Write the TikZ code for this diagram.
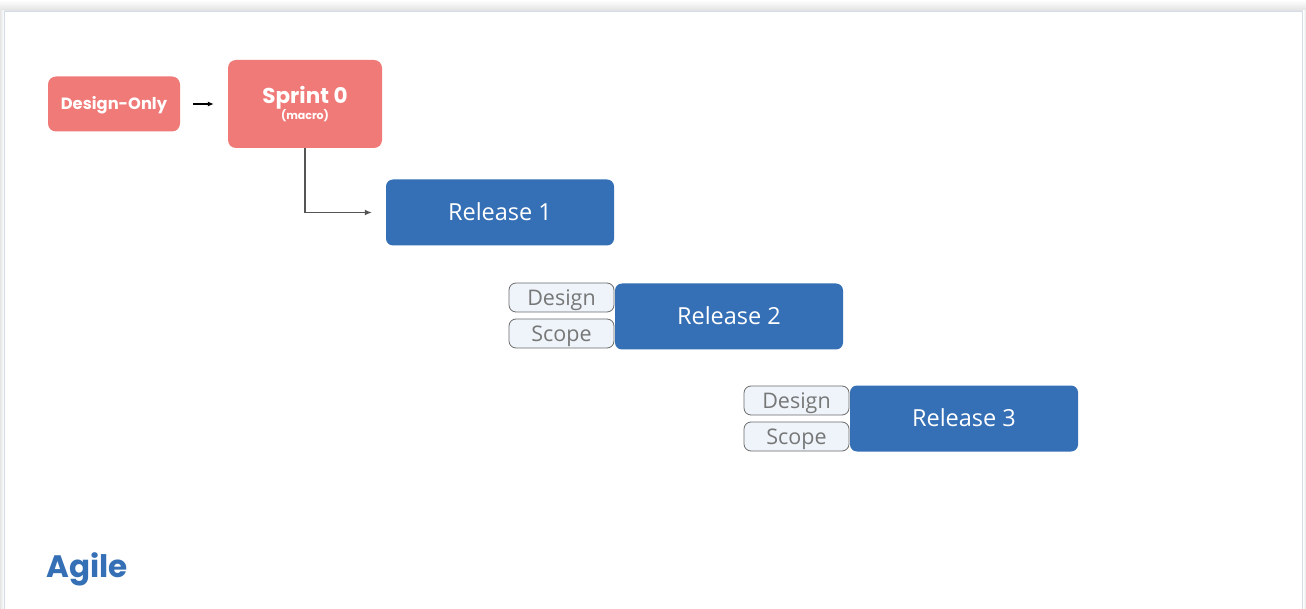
\documentclass[tikz,border=0pt]{standalone}
\usepackage{fontspec}
\setmainfont{Open Sans}
\newfontfamily\pop{Poppins}
\usetikzlibrary{arrows.meta}
\definecolor{salmon}{HTML}{F07A78}
\definecolor{relblue}{HTML}{356FB5}
\definecolor{pillfill}{HTML}{EEF4FA}
\definecolor{pillline}{HTML}{6B6B6B}
\definecolor{pilltext}{HTML}{777777}
\definecolor{framec}{HTML}{D3DDE9}
\definecolor{conn}{HTML}{555555}
\tikzset{
  redbox/.style={fill=salmon, rounded corners=8pt, text=white, align=center, inner sep=0pt},
  relbox/.style={fill=relblue, rounded corners=7pt, text=white, minimum width=228pt, minimum height=66pt, inner sep=0pt, text height=16.8pt, text depth=0pt, font=\fontsize{23.5}{26}\selectfont},
  pill/.style={fill=pillfill, draw=pillline, line width=0.8pt, rounded corners=7pt, text=pilltext, minimum width=105pt, minimum height=29pt, inner sep=0pt, text height=15.35pt, text depth=0pt, font=\fontsize{21.5}{22}\selectfont}
}
\begin{document}
\begin{tikzpicture}[x=1pt,y=-1pt]
\useasboundingbox (0,0) rectangle (1306,609);
\fill[white] (0,0) rectangle (1306,609);
\shade[top color=white, bottom color=black!12] (0,0) rectangle (1306,11);
\shade[left color=black!10, right color=white] (0,11) rectangle (4,609);
\shade[left color=white, right color=black!10] (1303,11) rectangle (1306,609);
\draw[framec, line width=1.2pt, fill=white] (4.5,11.5) -- (1302.5,11.5) -- (1302.5,612) (4.5,612) -- (4.5,11.5);
\fill[white] (5.1,12.1) rectangle (1301.9,609);

\node[redbox, minimum width=132pt, minimum height=55pt, text height=11.4pt, text depth=0pt, font=\pop\bfseries\fontsize{16.3}{18}\selectfont] (design) at (114,104) {Design-Only};
\node[redbox, minimum width=154pt, minimum height=88pt] (sprint) at (305,104)
  {{\pop\bfseries\fontsize{21.5}{22}\selectfont Sprint 0}\\[0pt]{\pop\bfseries\fontsize{11}{11}\selectfont (macro)}};

\node[relbox] (r1) at (500,212.5) {Release 1};
\node[relbox] (r2) at (729,316.5) {Release 2};
\node[relbox] (r3) at (964,418.5) {Release 3};

\node[pill] (d2) at (561.5,297.5) {Design};
\node[pill] (s2) at (561.5,333.5) {Scope};
\node[pill] (d3) at (796.5,400.5) {Design};
\node[pill] (s3) at (796.5,436.5) {Scope};

\draw[-{Latex[length=6pt,width=5pt]}, line width=1.1pt, shorten <=13pt, shorten >=14pt] (design.east) -- (design.east -| sprint.west);
\draw[-{Latex[length=7pt,width=6pt]}, conn, line width=1.3pt, shorten >=14pt] (sprint.south) |- (r1.west);

\node[anchor=west, text=relblue, font=\pop\bfseries\fontsize{31}{34}\selectfont, inner sep=0pt] (agile) at (46,569) {Agile};
\end{tikzpicture}
\end{document}
